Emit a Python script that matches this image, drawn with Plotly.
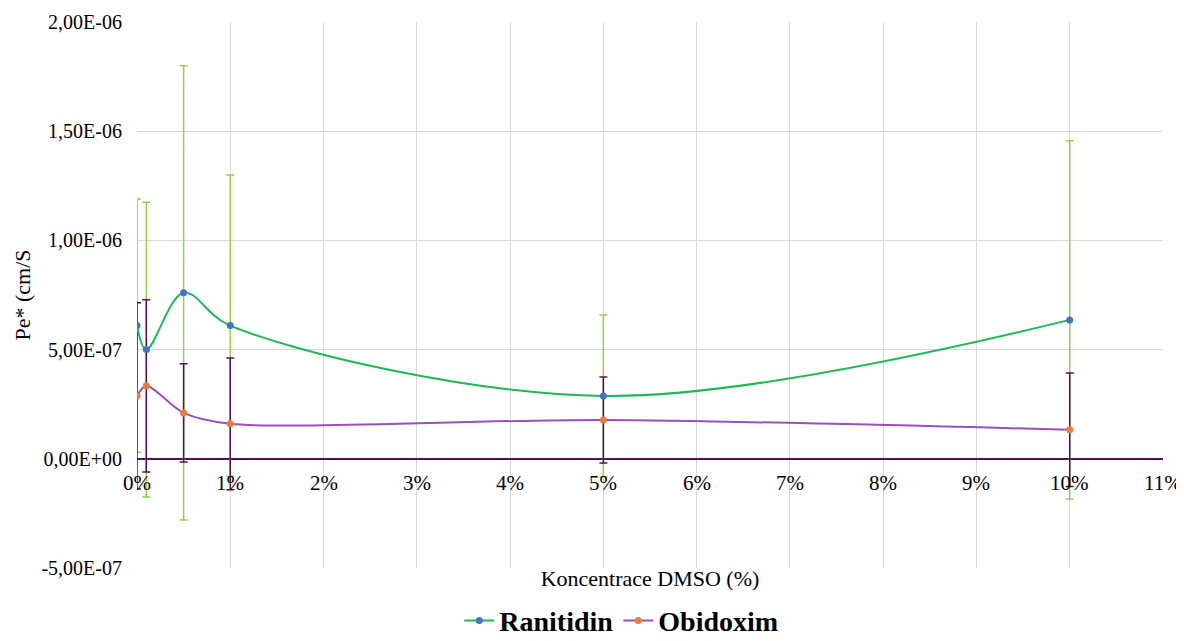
import plotly.graph_objects as go

x_pct = [0, 0.1, 0.5, 1, 5, 10]

ranitidin = [6.1e-7, 5.0e-7, 7.6e-7, 6.1e-7, 2.88e-7, 6.36e-7]
ranitidin_err = [5.8e-7, 6.75e-7, 1.04e-6, 6.9e-7, 3.7e-7, 8.2e-7]

obidoxim = [2.88e-7, 3.34e-7, 2.1e-7, 1.6e-7, 1.78e-7, 1.33e-7]
obidoxim_err = [4.26e-7, 3.94e-7, 2.25e-7, 3.02e-7, 1.97e-7, 2.6e-7]

y_tickvals = [-5e-7, 0, 5e-7, 1e-6, 1.5e-6, 2e-6]
y_ticktext = ["-5,00E-07", "0,00E+00", "5,00E-07", "1,00E-06", "1,50E-06", "2,00E-06"]
x_tickvals = list(range(0, 12))
x_ticktext = [f"{v}%" for v in x_tickvals]

SERIF = "Liberation Serif, Times New Roman, serif"

fig = go.Figure()

# error bars (drawn beneath lines)
fig.add_trace(go.Scatter(
    x=x_pct, y=ranitidin, mode="markers",
    marker=dict(size=1, opacity=0), showlegend=False, hoverinfo="skip",
    error_y=dict(type="data", array=ranitidin_err, visible=True,
                 color="#92D050", thickness=1.5, width=4)))
fig.add_trace(go.Scatter(
    x=x_pct, y=obidoxim, mode="markers",
    marker=dict(size=1, opacity=0), showlegend=False, hoverinfo="skip",
    error_y=dict(type="data", array=obidoxim_err, visible=True,
                 color="#561156", thickness=1.5, width=4)))

fig.add_trace(go.Scatter(
    x=x_pct, y=ranitidin, mode="lines+markers", name="Ranitidin",
    line=dict(color="#1DB954", width=2, shape="spline", smoothing=1.0),
    marker=dict(color="#4472C4", size=7)))
fig.add_trace(go.Scatter(
    x=x_pct, y=obidoxim, mode="lines+markers", name="Obidoxim",
    line=dict(color="#9B4DC4", width=2, shape="spline", smoothing=0.8),
    marker=dict(color="#ED7D31", size=7)))

annotations = []
for v, t in zip(x_tickvals, x_ticktext):
    annotations.append(dict(x=v, y=0, xref="x", yref="y", text=t, showarrow=False,
                            yanchor="middle", xanchor="center", yshift=-24,
                            font=dict(family=SERIF, size=21, color="#000")))

fig.update_layout(
    width=1176, height=633,
    margin=dict(l=129, r=21, t=14, b=73, autoexpand=False),
    paper_bgcolor="white", plot_bgcolor="white",
    showlegend=True,
    legend=dict(orientation="h", x=0.472, xanchor="center",
                yref="container", y=0.032, yanchor="middle",
                font=dict(family=SERIF, size=28, color="#000", weight="bold"),
                itemwidth=30, traceorder="normal"),
    xaxis=dict(range=[0, 11], tickvals=x_tickvals, showticklabels=False,
               showgrid=True, gridcolor="#D9D9D9", gridwidth=1.3,
               zeroline=False, showline=False,
               title=dict(text="Koncentrace DMSO (%)", standoff=2,
                          font=dict(family=SERIF, size=22, color="#000"))),
    yaxis=dict(range=[-5e-7, 2e-6], tickvals=y_tickvals, ticktext=y_ticktext,
               showgrid=True, gridcolor="#D9D9D9", gridwidth=1.3,
               zeroline=True, zerolinecolor="#561156", zerolinewidth=1.5,
               showline=False, ticks="", ticklabelstandoff=14,
               tickfont=dict(family=SERIF, size=20, color="#000"),
               title=dict(text="Pe* (cm/S", standoff=4,
                          font=dict(family=SERIF, size=22, color="#000"))),
    annotations=annotations,
)

fig.write_html("out.html")
